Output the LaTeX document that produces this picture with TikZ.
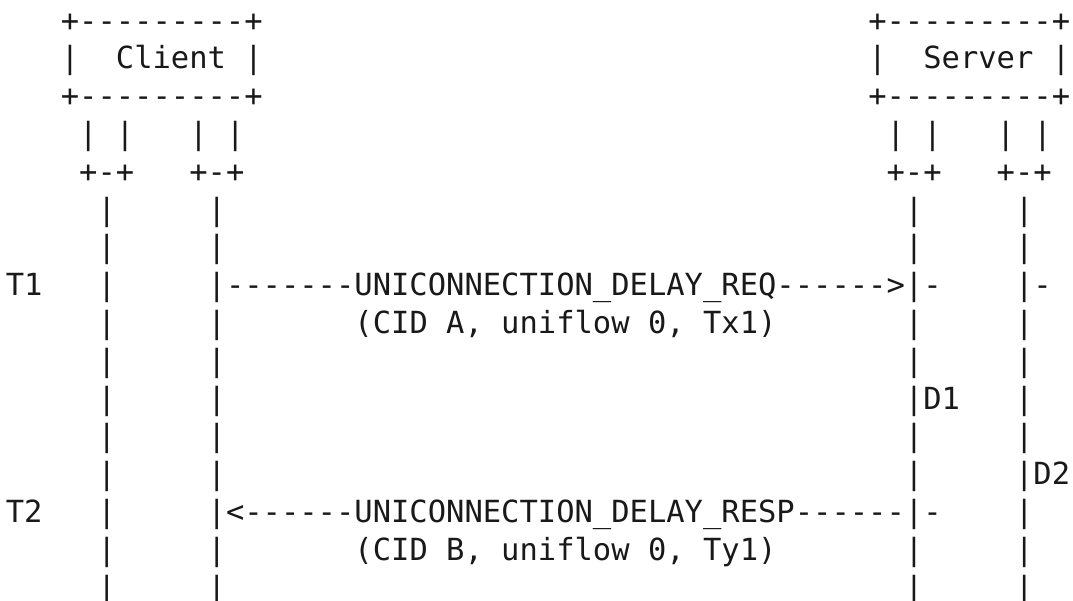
\documentclass[tikz,border=0pt]{standalone}
\usepackage{fontspec}
\newfontfamily\asciifont{DejaVu Sans Mono}
\usepackage{tikz}

\begin{document}
\begin{tikzpicture}[
      x=18.35pt, y=-37.8pt,
      art/.style={anchor=base west, inner sep=0pt, outer sep=0pt, text=black!90,
                  font=\asciifont\fontsize{30.48pt}{37.8pt}\selectfont},
      lbl/.style={art}
    ]
    \useasboundingbox (0pt,0pt) rectangle (1073pt,-600pt);
    \begin{scope}[shift={(5.8pt,-31pt)}]
    % client and server boxes
    \node[art] (clienttop) at (3,0) {+---------+};
    \node[art] (clientl)   at (3,1) {|};
    \node[art] (client)    at (6,1) {Client};
    \node[art] (clientr)   at (13,1) {|};
    \node[art] (clientbot) at (3,2) {+---------+};
    \node[art] (servertop) at (47,0) {+---------+};
    \node[art] (serverl)   at (47,1) {|};
    \node[art] (server)    at (50,1) {Server};
    \node[art] (serverr)   at (57,1) {|};
    \node[art] (serverbot) at (47,2) {+---------+};
    % interfaces
    \node[art] (cifa)  at (4,3)  {| |};
    \node[art] (cifb)  at (10,3) {| |};
    \node[art] (sifa)  at (48,3) {| |};
    \node[art] (sifb)  at (54,3) {| |};
    \node[art] (cfoota) at (4,4)  {+-+};
    \node[art] (cfootb) at (10,4) {+-+};
    \node[art] (sfoota) at (48,4) {+-+};
    \node[art] (sfootb) at (54,4) {+-+};
    % lifelines
    \foreach \r in {5,...,15}
      \foreach \c in {5,11,49,55}
        \node[art] (life-\c-\r) at (\c,\r) {|};
    % request
    \node[lbl] (tone)    at (0,7)  {T1};
    \node[art] (req)     at (12,7) {-------UNICONNECTION\_DELAY\_REQ------>};
    \node[art] (reqa)    at (50,7) {-};
    \node[art] (reqb)    at (56,7) {-};
    \node[lbl] (reqinfo) at (19,8) {(CID A, uniflow 0, Tx1)};
    \node[lbl] (done)    at (50,10) {D1};
    \node[lbl] (dtwo)    at (56,12) {D2};
    % response
    \node[lbl] (ttwo)     at (0,13)  {T2};
    \node[art] (resp)     at (12,13) {<------UNICONNECTION\_DELAY\_RESP------};
    \node[art] (respa)    at (50,13) {-};
    \node[lbl] (respinfo) at (19,14) {(CID B, uniflow 0, Ty1)};
    \end{scope}
  \end{tikzpicture}
\end{document}
